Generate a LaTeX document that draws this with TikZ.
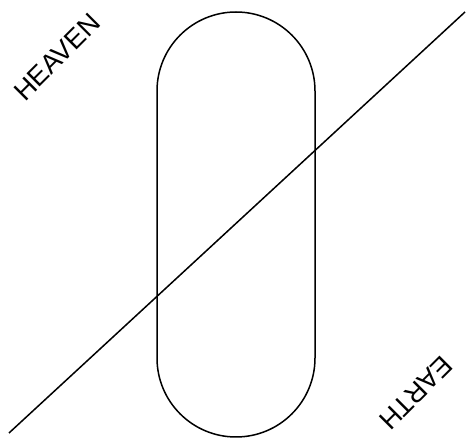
\documentclass[tikz,border=0pt]{standalone}
\usepackage{fontspec}
\setmainfont{Liberation Sans}
\begin{document}
\begin{tikzpicture}[x=1pt,y=-1pt,
  stroke/.style={line width=1.5pt, black},
  label/.style={font=\fontsize{27}{27}\selectfont, inner sep=0pt}]
\useasboundingbox (0,0) rectangle (467,438);
\node[stroke, draw, rounded corners=79pt, minimum width=158pt, minimum height=425pt, inner sep=0pt] (capsule) at (236,224.5) {};
\coordinate (lineA) at (9,433);
\coordinate (lineB) at (465,12);
\draw[stroke] (lineA) -- (lineB);
\node[label, rotate=45] (heaven) at (57,57) {HEAVEN};
\node[label, rotate=225] (earth) at (416,393) {EARTH};
\end{tikzpicture}
\end{document}
